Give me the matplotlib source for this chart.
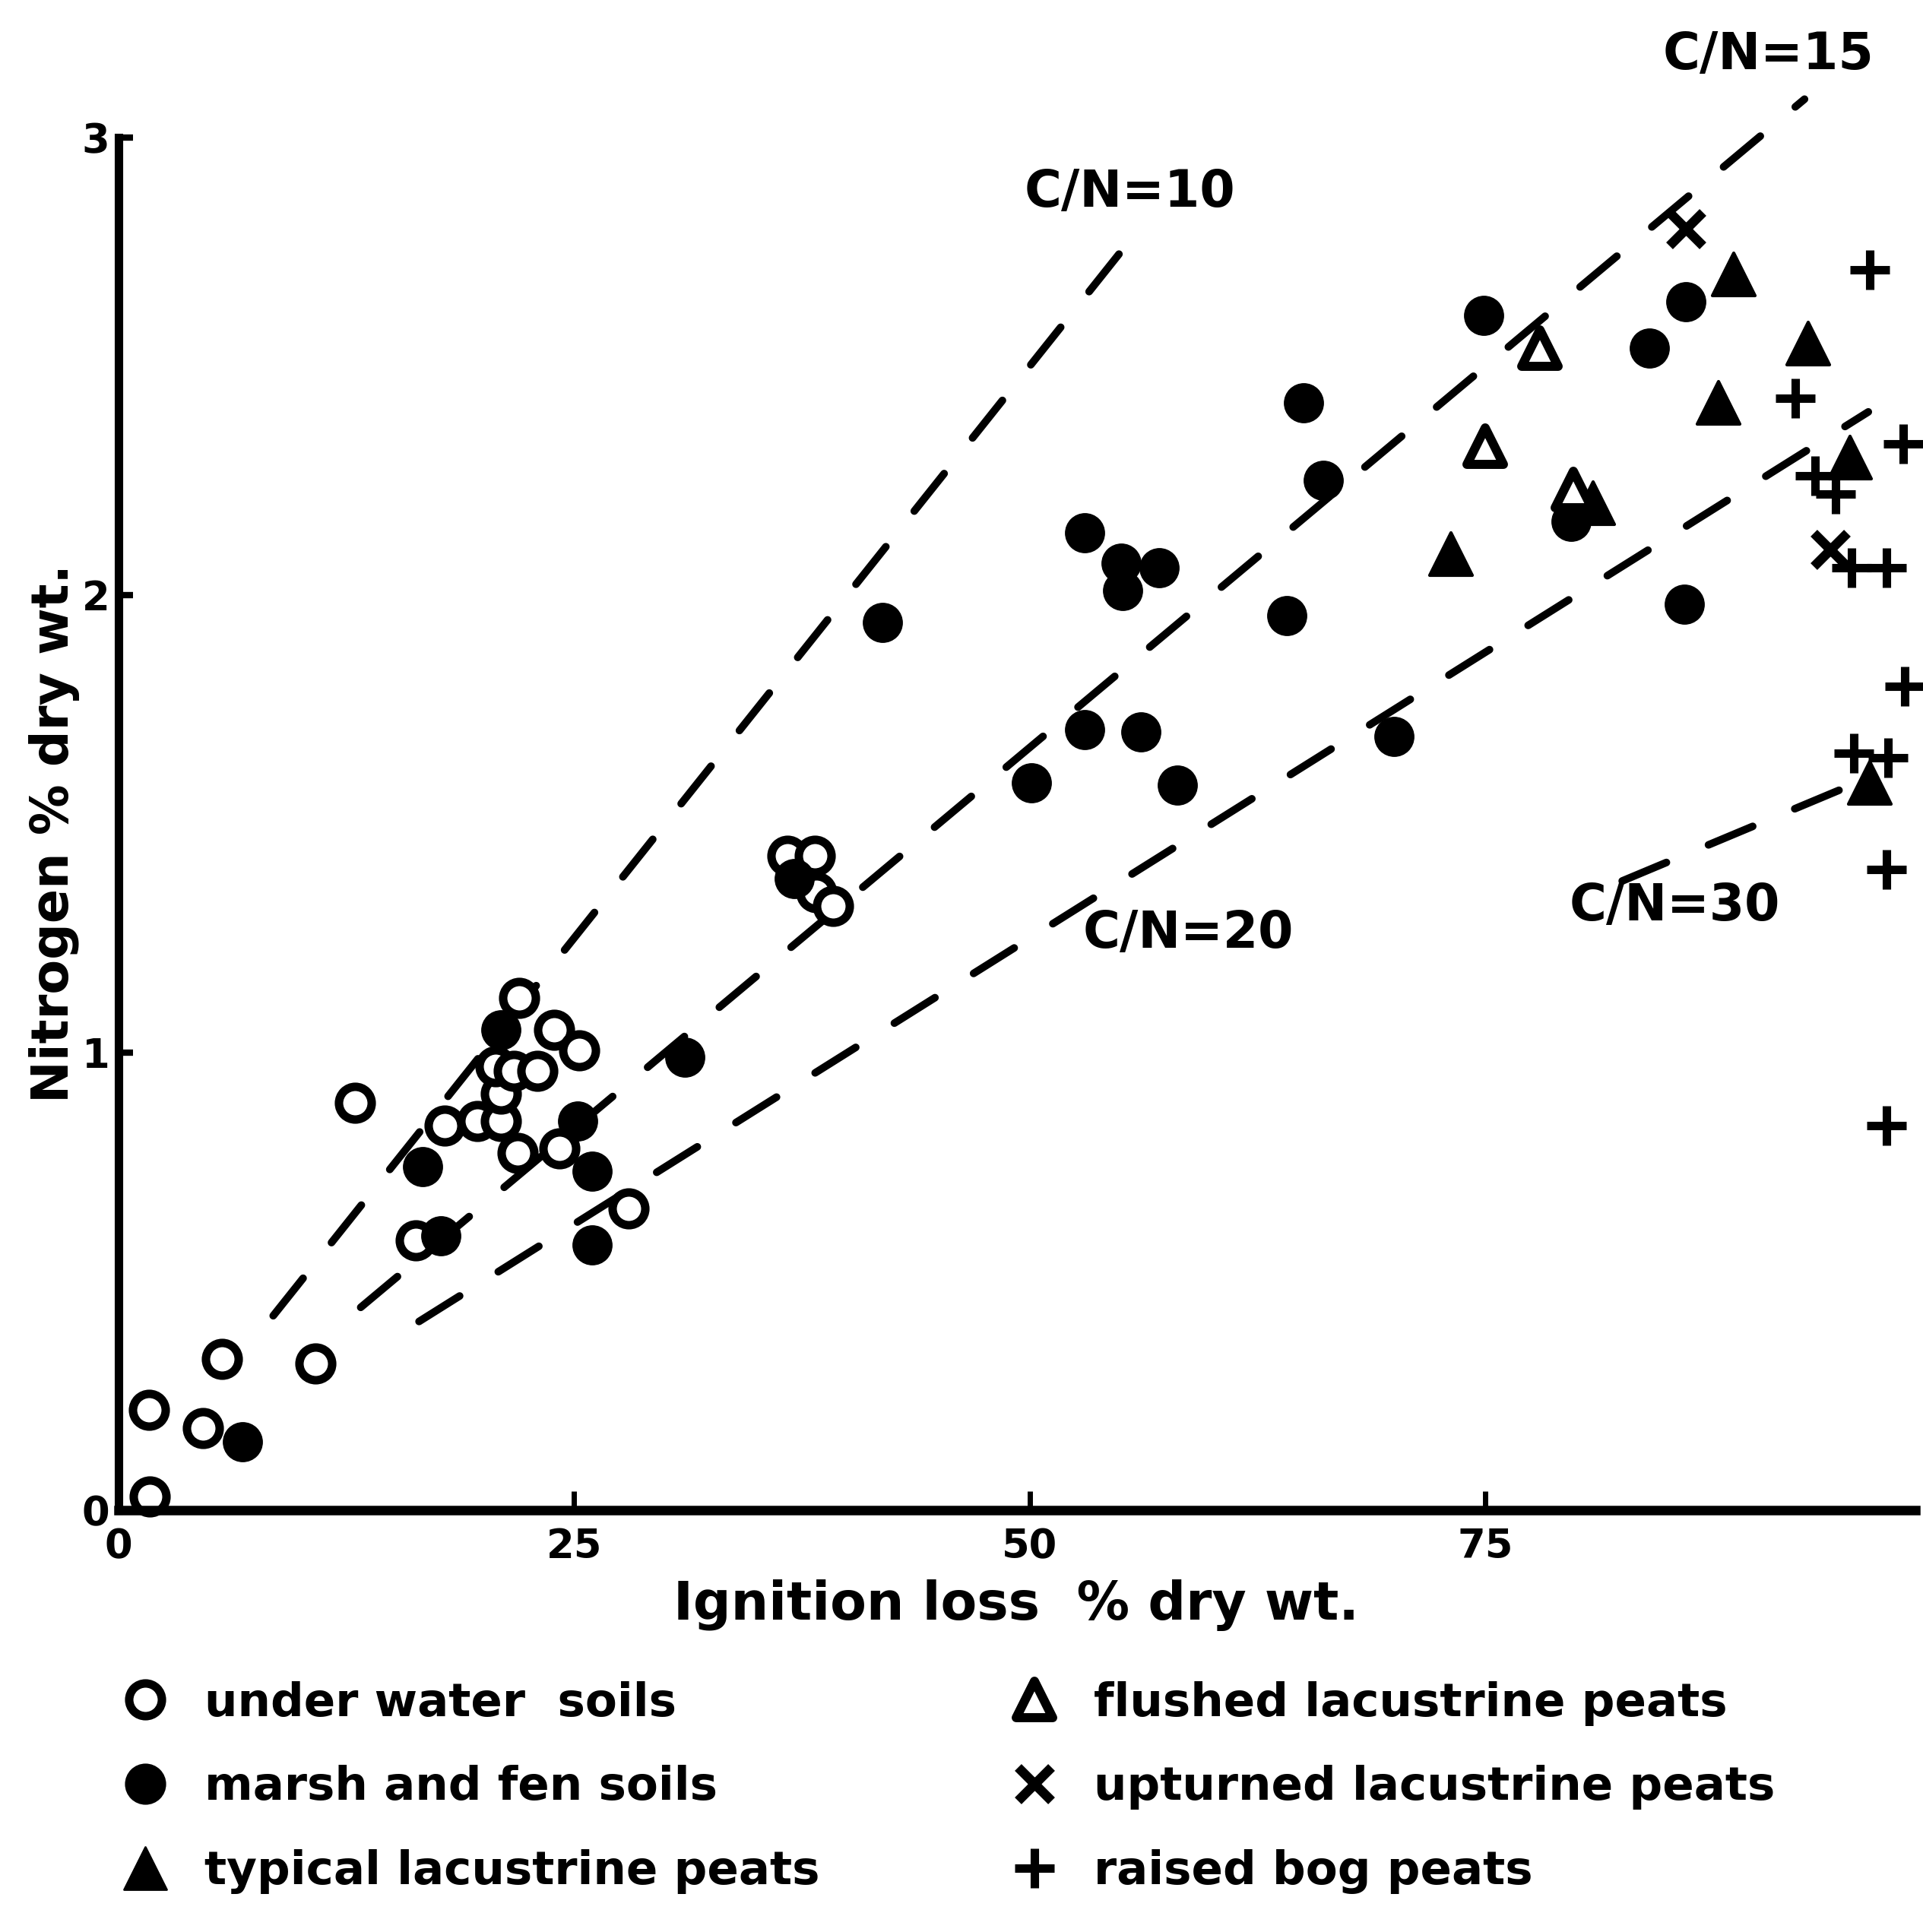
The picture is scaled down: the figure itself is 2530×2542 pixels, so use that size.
import numpy as np
import matplotlib.pyplot as plt
from matplotlib.lines import Line2D
from matplotlib.markers import MarkerStyle

plt.rcParams['font.family'] = ['DejaVu Sans']
plt.rcParams['font.weight'] = 'bold'
plt.rcParams['lines.scale_dashes'] = False

# underwater soils (open circles)
under_x = [1.7, 1.74, 4.65, 5.7, 10.8, 13.0, 16.3, 17.9, 19.7, 21.0, 21.0, 20.7, 21.7, 23.0,
           22.0, 23.9, 25.3, 21.9, 24.2, 28.0, 36.7, 38.2, 38.3, 39.2]
under_y = [0.22, 0.03, 0.18, 0.33, 0.32, 0.89, 0.59, 0.84, 0.85, 0.85, 0.91, 0.97, 0.96, 0.96,
           1.12, 1.05, 1.005, 0.78, 0.79, 0.66, 1.43, 1.43, 1.35, 1.32]

# marsh and fen soils (filled circles)
marsh_x = [6.8, 16.7, 17.7, 21.0, 25.2, 26.0, 26.0, 31.1, 37.1, 41.9, 50.1, 53.0, 53.0, 55.0,
           55.1, 57.1, 56.1, 58.1, 64.1, 65.0, 66.1, 70.0, 74.9, 79.7, 84.0, 86.0, 85.9]
marsh_y = [0.15, 0.75, 0.60, 1.05, 0.85, 0.74, 0.58, 0.99, 1.38, 1.94, 1.59, 2.135, 1.705, 2.07,
           2.01, 2.06, 1.70, 1.584, 1.955, 2.42, 2.25, 1.69, 2.61, 2.16, 2.54, 2.64, 1.98]

# typical lacustrine peats (filled triangles)
typical_x = [73.1, 80.9, 87.8, 88.6, 92.7, 95.0, 96.1]
typical_y = [2.09, 2.20, 2.42, 2.70, 2.55, 2.30, 1.59]

# flushed lacustrine peats (open triangles)
flushed_x = [75.0, 78.0, 79.8]
flushed_y = [2.325, 2.54, 2.23]

# upturned lacustrine peats (x)
upturned_x = [86.0, 93.9]
upturned_y = [2.80, 2.10]

# raised bog peats (+)
bog_x = [96.1, 92.0, 97.9, 93.1, 94.2, 95.1, 97.0, 98.0, 95.2, 97.1, 97.0, 97.0]
bog_y = [2.71, 2.43, 2.33, 2.26, 2.22, 2.06, 2.06, 1.80, 1.655, 1.645, 1.40, 0.84]

# C/N reference lines: ratio, ignition-loss range, label position
cn_ratio = [10, 15, 20, 30]
cn_start = [8.5, 13.3, 16.5, 82.5]
cn_end = [56.0, 92.5, 96.0, 96.5]
cn_label = ['C/N=10', 'C/N=15', 'C/N=20', 'C/N=30']
cn_label_x = [55.5, 90.5, 58.7, 85.4]
cn_label_y = [2.88, 3.18, 1.26, 1.32]

fig = plt.figure(figsize=(12.65, 12.71), dpi=200)
ax = fig.add_axes([0.0615, 0.2183, 0.9385, 0.7817])

for r, x0, x1, lab, lx, ly in zip(cn_ratio, cn_start, cn_end, cn_label, cn_label_x, cn_label_y):
    xs = np.linspace(x0, x1, 50)
    ax.plot(xs, 0.5 * xs / r, color='black', lw=3.6, dashes=(22.7, 21.6),
            dash_capstyle='round')
    ax.text(lx, ly, lab, fontsize=24, ha='center', va='center')

tri_round = MarkerStyle('^', joinstyle='round')
ax.plot(under_x, under_y, 'o', ms=15.5, mfc='white', mec='black', mew=4, clip_on=False)
ax.plot(marsh_x, marsh_y, 'o', ms=18.5, color='black', mew=0.5, clip_on=False)
ax.plot(typical_x, typical_y, ls='none', marker=tri_round, ms=20, color='black', mew=1.5, clip_on=False)
ax.plot(flushed_x, flushed_y, ls='none', marker=tri_round, ms=17, mfc='white', mec='black', mew=4.3, clip_on=False)
ax.plot(upturned_x, upturned_y, 'x', ms=16, color='black', mew=4.5, clip_on=False)
ax.plot(bog_x, bog_y, '+', ms=19, color='black', mew=4, clip_on=False)

ax.set_xlim(0, 99)
ax.set_ylim(0, 3.30)
for s in ['top', 'right']:
    ax.spines[s].set_visible(False)
ax.spines['left'].set_bounds(0, 3)
ax.spines['bottom'].set_bounds(0, 98.6)
ax.spines['left'].set_linewidth(4)
ax.spines['bottom'].set_linewidth(4.5)

ax.set_xticks([0, 25, 50, 75])
ax.set_yticks([0, 1, 2, 3])
ax.tick_params(axis='x', direction='in', length=9, width=2.5, pad=8, labelsize=19)
ax.tick_params(axis='y', direction='in', length=7, width=3, pad=4, labelsize=19)

ax.set_xlabel('Ignition loss  % dry wt.', fontsize=25, fontweight='bold')
ax.set_ylabel('Nitrogen % dry wt.', fontsize=24, fontweight='bold')
ax.xaxis.set_label_coords(0.4977, -0.046)
ax.yaxis.set_label_coords(-0.0213, 0.448)

def handle(marker, **kw):
    return Line2D([], [], ls='none', marker=marker, color='black', **kw)

left_handles = [handle('o', ms=15.5, mfc='white', mew=4),
                handle('o', ms=18.5),
                handle(tri_round, ms=20)]
left_labels = ['under water  soils', 'marsh and fen soils', 'typical lacustrine peats']
right_handles = [handle(tri_round, ms=17, mfc='white', mew=4.3),
                 handle('x', ms=16, mew=4.5),
                 handle('+', ms=19, mew=4)]
right_labels = ['flushed lacustrine peats', 'upturned lacustrine peats', 'raised bog peats']

leg_kw = dict(loc='upper left', frameon=False, fontsize=22, borderpad=0, borderaxespad=0,
              handlelength=1.0, handletextpad=0.78, labelspacing=0.85)
fig.legend(left_handles, left_labels, bbox_to_anchor=(0.0634, 0.130), **leg_kw)
fig.legend(right_handles, right_labels, bbox_to_anchor=(0.5259, 0.130), **leg_kw)

fig.savefig('out.png', dpi=200)
